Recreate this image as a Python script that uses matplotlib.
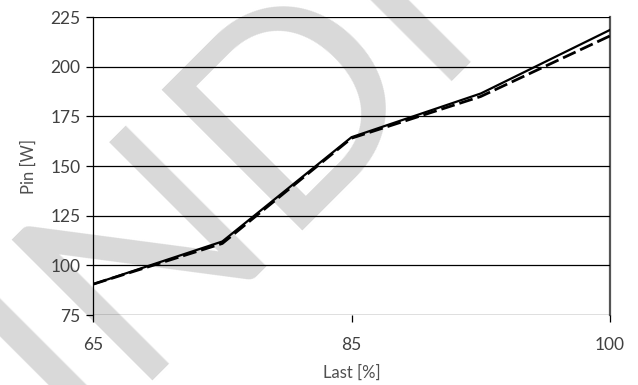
import matplotlib
matplotlib.use("Agg")
import matplotlib.pyplot as plt

# load points (equally spaced categories on the x axis)
load_labels = ["65", "", "85", "", "100"]
pin_solid = [90.5, 112.0, 164.5, 186.5, 218.5]
pin_dashed = [90.5, 111.0, 164.0, 185.0, 215.5]
y_ticks = [75, 100, 125, 150, 175, 200, 225]

plt.rcParams["font.family"] = ["Lato", "DejaVu Sans"]

fig = plt.figure(figsize=(6.38, 3.85), dpi=100)

# watermark behind the chart
fig.text(0.115, -0.13, "INDICATIVE", rotation=45, rotation_mode="anchor",
         ha="left", va="baseline", fontsize=200, color="#d9d9d9", zorder=-5)

ax = fig.add_axes([0.1458, 0.1818, 0.8103, 0.774])
ax.set_facecolor("none")

x = list(range(len(pin_solid)))
ax.plot(x, pin_solid, color="black", lw=1.6, zorder=4)
ax.plot(x, pin_dashed, color="black", lw=2.0, dashes=(5, 1.8), zorder=3)

ax.set_xlim(0, len(x) - 1)
ax.set_ylim(75, 225)
ax.set_yticks(y_ticks)
ax.set_xticks([i for i, s in enumerate(load_labels) if s])
ax.set_xticklabels([s for s in load_labels if s])
ax.yaxis.grid(True, color="black", lw=0.9)
ax.set_axisbelow(False)

for s in ["top", "bottom"]:
    ax.spines[s].set_visible(False)
ax.spines["left"].set_color("black")
ax.spines["left"].set_linewidth(0.9)
ax.spines["right"].set_color("#555555")
ax.spines["right"].set_linewidth(1.6)

ax.tick_params(axis="y", length=5, width=0.9, labelsize=12.5, labelcolor="#404040", pad=4)
ax.tick_params(axis="x", length=5, width=0.9, labelsize=12.5, labelcolor="#404040", pad=11)

ax.set_xlabel("Last [%]", fontsize=12, color="#505050", labelpad=8)
ax.set_ylabel("Pin [W]", fontsize=12, color="#505050", labelpad=10)

fig.savefig("out.png", dpi=100)
